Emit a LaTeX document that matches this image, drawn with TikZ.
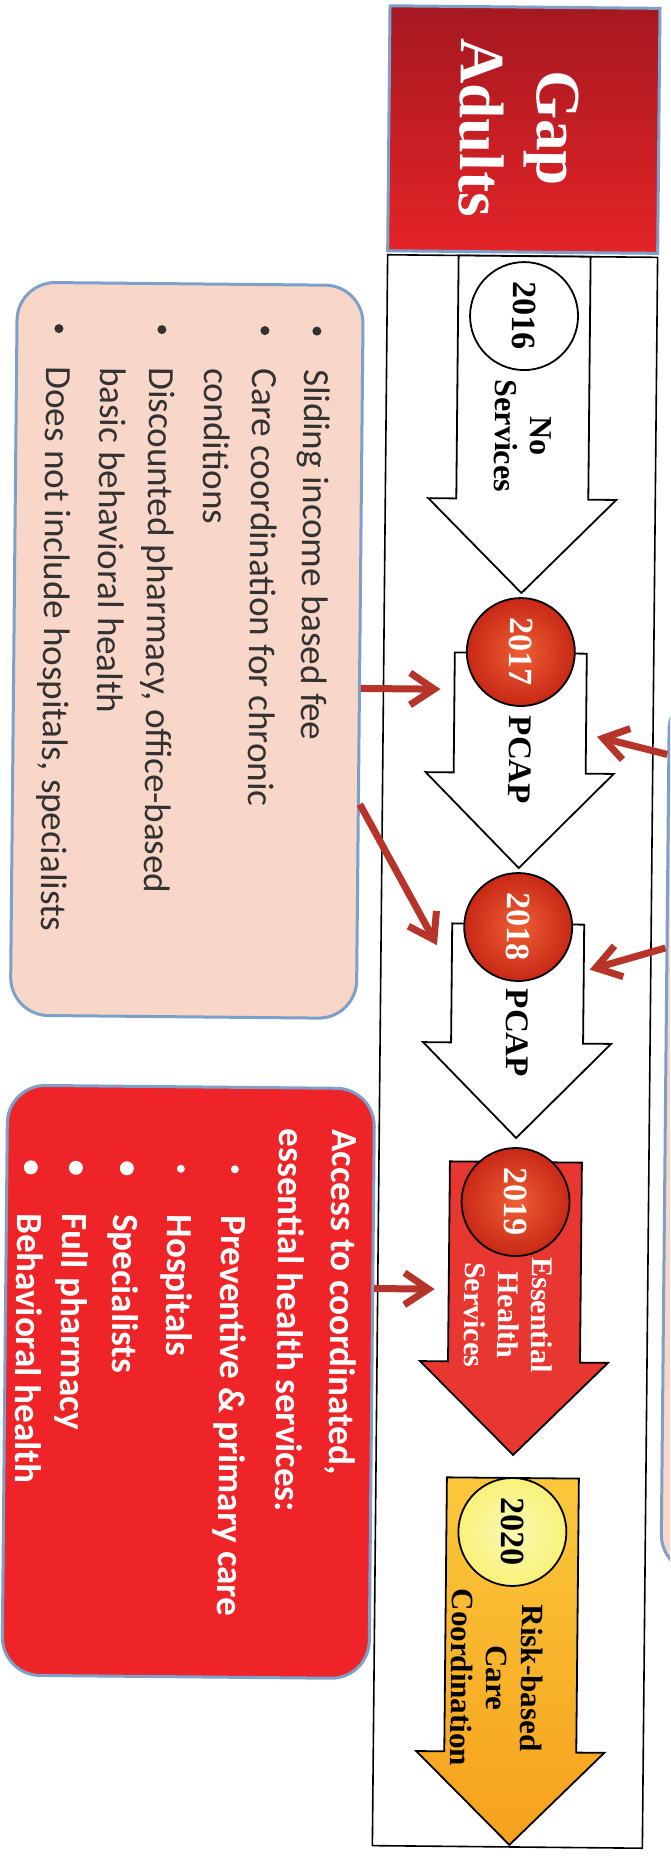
\documentclass[tikz,border=0pt]{standalone}
\usepackage{fontspec}
\setmainfont{Liberation Serif}
\newfontfamily\boxfont{Carlito}
\usetikzlibrary{arrows.meta, calc}
\definecolor{titleDark}{RGB}{165,25,32}
\definecolor{titleRed}{RGB}{228,36,40}
\definecolor{edgeBlue}{RGB}{125,160,202}
\definecolor{pinkFill}{RGB}{248,214,200}
\definecolor{redFill}{RGB}{238,36,40}
\definecolor{linkRed}{RGB}{182,52,42}
\definecolor{ballRed}{RGB}{200,40,22}
\definecolor{ballLight}{RGB}{238,95,52}
\definecolor{ehsRed}{RGB}{232,55,48}
\definecolor{riskOrange}{RGB}{246,160,28}
\definecolor{riskYellow}{RGB}{250,200,60}
\definecolor{paleYellow}{RGB}{248,242,120}
\definecolor{textGray}{RGB}{50,50,50}

\tikzset{
  outline/.style={draw=black, line width=1.8pt, line join=miter},
  infobox/.style={draw=edgeBlue, line width=3pt, rounded corners=38pt, inner sep=0pt},
  yearball/.style={circle, outline, minimum size=108pt, inner sep=0pt,
    font=\fontsize{34}{34}\selectfont\bfseries, rotate=-90},
  redball/.style={inner color=ballLight, outer color=ballRed},
  steplabel/.style={rotate=-90, align=center, inner sep=0pt},
  pinkline/.style={rotate=-90, anchor=base west, inner sep=0pt, text=textGray,
    font=\boxfont\fontsize{37}{44}\selectfont},
  redline/.style={pinkline, text=white, font=\boxfont\bfseries\fontsize{37}{44}\selectfont},
  link/.style={draw=linkRed, line width=7pt, -{Straight Barb[length=24pt, width=32pt]}}
}

\begin{document}
\begin{tikzpicture}[x=1pt, y=-1pt]
  \useasboundingbox (0,0) rectangle (670,1860);
  \clip (0,0) rectangle (670,1860);
  \fill[white] (0,0) rectangle (670,1860);

  \begin{scope}[rotate around={-0.55:(517,1050)}, transform shape]
    % Title
    \node[draw=edgeBlue, line width=3pt, top color=titleDark, bottom color=titleRed,
      minimum width=270pt, minimum height=245pt] (title) at (515,129.5) {};
    \node[steplabel, text=white, font=\fontsize{63}{77}\selectfont\bfseries] (gaplab) at (510.5,128) {Gap\\Adults};

    % Timeline frame
    \draw[line width=1.6pt] (380,256) rectangle (650,1847);

    % Side boxes
    \node[infobox, fill=pinkFill, minimum width=346pt, minimum height=733pt] (pcapbox) at (183,653.5) {};
    \node[infobox, fill=redFill, minimum width=367pt, minimum height=590pt] (ehsbox) at (191.5,1385) {};
    \node[infobox, fill=pinkFill, minimum width=120pt, minimum height=881pt] (riskbox) at (726,1130.5) {};

    % Step arrows
    \draw[outline, fill=white] (451,256) -- (451,499) -- (423,499) -- (517,593) -- (611,499) -- (583,499) -- (583,256) -- cycle;
    \draw[outline, fill=white] (451,653) -- (451,773) -- (423,773) -- (517,868) -- (611,773) -- (583,773) -- (583,653) -- cycle;
    \draw[outline, fill=white] (451,924) -- (451,1043) -- (423,1043) -- (517,1138) -- (611,1043) -- (583,1043) -- (583,924) -- cycle;
    \draw[outline, fill=ehsRed] (451,1162) -- (451,1362) -- (423,1362) -- (517,1455) -- (611,1362) -- (583,1362) -- (583,1162) -- cycle;
    \draw[outline, top color=riskYellow, bottom color=riskOrange] (451,1478) -- (451,1752) -- (423,1752) -- (517,1845) -- (611,1752) -- (583,1752) -- (583,1478) -- cycle;

    % Year circles
    \node[yearball, fill=white] (y2016) at (517,316) {2016};
    \node[yearball, redball, text=white] (y2017) at (517,652) {2017};
    \node[yearball, redball, text=white] (y2018) at (517,927) {2018};
    \node[yearball, redball, text=white] (y2019) at (517,1202) {2019};
    \node[yearball, inner color=white!45!paleYellow, outer color=paleYellow] (y2020) at (517,1532) {2020};

    % Step labels
    \node[steplabel, font=\fontsize{32}{35}\selectfont\bfseries] (nolab) at (517,436) {No\\Services};
    \node[steplabel, font=\fontsize{33}{36}\selectfont\bfseries] (pcap17) at (517,760) {PCAP};
    \node[steplabel, font=\fontsize{33}{36}\selectfont\bfseries] (pcap18) at (517,1033) {PCAP};
    \node[steplabel, text=white, font=\fontsize{30}{33.5}\selectfont\bfseries] (ehslab) at (511,1315) {Essential\\Health\\Services};
    \node[steplabel, font=\fontsize{31}{35}\selectfont\bfseries] (risklab) at (503,1678) {Risk-based\\Care\\Coordination};

    % PCAP list
    \fill[textGray] (310,333) circle (4.5pt);
    \fill[textGray] (258,333) circle (4.5pt);
    \fill[textGray] (155,333) circle (4.5pt);
    \fill[textGray] (52,333) circle (4.5pt);
    \node[pinkline] (pcap1) at (298,371) {Sliding income based fee};
    \node[pinkline] (pcap2) at (246,371) {Care coordination for chronic};
    \node[pinkline] (pcap3) at (198,371) {conditions};
    \node[pinkline] (pcap4) at (143,371) {Discounted pharmacy, office-based};
    \node[pinkline] (pcap5) at (94,371) {basic behavioral health};
    \node[pinkline] (pcap6) at (40,371) {Does not include hospitals, specialists};

    % Essential health services list
    \node[redline] (ehs1) at (333,1131) {Access to coordinated,};
    \node[redline] (ehs2) at (280,1131) {essential health services:};
    \fill[white] (236,1172) circle (4pt);
    \fill[white] (182,1172) circle (4pt);
    \fill[white] (128,1172) circle (7pt);
    \fill[white] (77,1172) circle (7pt);
    \fill[white] (32,1172) circle (7pt);
    \node[redline] (ehs3) at (223,1218) {Preventive \& primary care};
    \node[redline] (ehs4) at (169,1218) {Hospitals};
    \node[redline] (ehs5) at (115,1218) {Specialists};
    \node[redline] (ehs6) at (64,1218) {Full pharmacy};
    \node[redline] (ehs7) at (19,1218) {Behavioral health};

    % Links
    \coordinate (tip17a) at (437,690);
    \coordinate (tip18a) at (436,946);
    \coordinate (tip19a) at (437,1290);
    \coordinate (tip17b) at (594,736);
    \coordinate (tip18b) at (589,969);
    \draw[link] (pcapbox.east |- tip17a) -- (tip17a);
    \draw[link] ($(pcapbox.north east)!0.707!(pcapbox.south east)$) -- (tip18a);
    \draw[link] (ehsbox.east |- tip19a) -- (tip19a);
    \draw[link] ($(riskbox.north west)!0.073!(riskbox.south west)$) -- (tip17b);
    \draw[link] ($(riskbox.north west)!0.292!(riskbox.south west)$) -- (tip18b);
  \end{scope}
\end{tikzpicture}
\end{document}
